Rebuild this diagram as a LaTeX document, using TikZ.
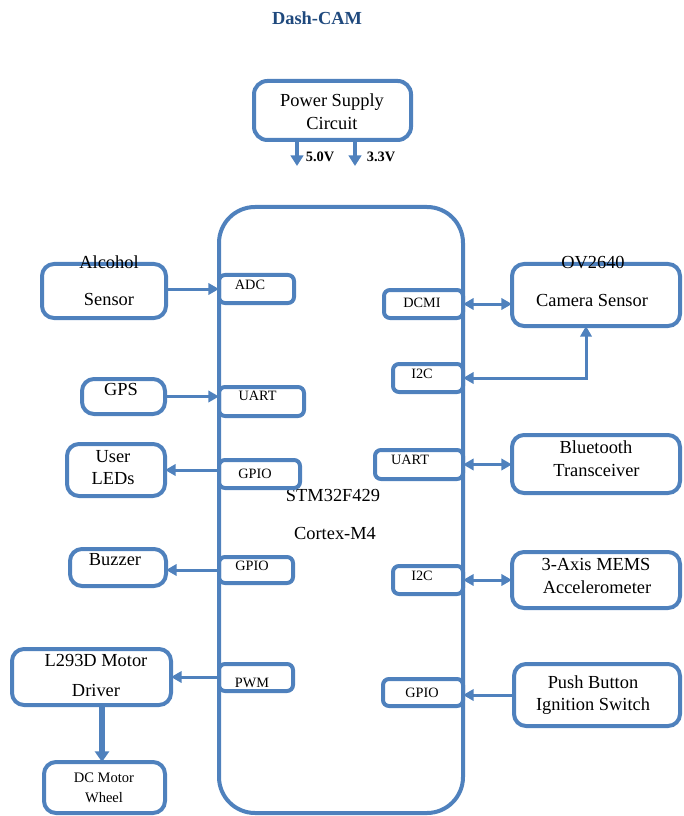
\documentclass[tikz,border=0pt]{standalone}
\usepackage{fontspec}
\setmainfont{Liberation Serif}
\usetikzlibrary{arrows.meta}
\definecolor{bl}{RGB}{79,129,189}
\definecolor{tb}{RGB}{31,73,125}
\tikzset{
  bx/.style n args={3}{draw=bl, line width=3pt, rounded corners=#3,
    minimum width=0.75*#1pt, minimum height=0.75*#2pt, inner sep=0pt, outer sep=0pt},
  big/.style={font=\fontsize{13.8}{16}\selectfont, anchor=base, inner sep=0pt},
  sm/.style={font=\fontsize{10.7}{12}\selectfont, anchor=base, inner sep=0pt},
  smb/.style={font=\fontsize{10.8}{12}\selectfont\bfseries, anchor=base, inner sep=0pt},
  conn/.style={draw=bl, line width=2.25pt, -{Triangle[length=8pt,width=8.5pt]}},
  dconn/.style={draw=bl, line width=2.25pt, {Triangle[length=8pt,width=8.5pt]}-{Triangle[length=8pt,width=8.5pt]}},
  parr/.style={draw=bl, line width=3.6pt, -{Triangle[length=8pt,width=9.5pt]}},
  marr/.style={draw=bl, line width=4.5pt, -{Triangle[length=8pt,width=10.5pt]}},
}
\begin{document}
\begin{tikzpicture}[x=0.75pt,y=-0.75pt]
\useasboundingbox (0,0) rectangle (683,816);

% title
\node[font=\fontsize{13.8}{16}\selectfont\bfseries, text=tb, anchor=base, inner sep=0pt] (title) at (317,24.5) {Dash-CAM};

% power supply
\node[bx={157}{59}{10pt}] (psu) at (332.5,110.5) {};
\node[big] (tpsu1) at (332,106.5) {Power Supply};
\node[big] (tpsu2) at (332,129.5) {Circuit};
\coordinate (p5) at (297,166);
\coordinate (p3) at (355,166);
\draw[parr] (psu.south -| p5) -- (p5);
\draw[parr] (psu.south -| p3) -- (p3);
\node[smb] (t5v) at (320,162) {5.0V};
\node[smb] (t3v) at (381,162) {3.3V};

% MCU
\node[bx={244}{606}{27pt}] (mcu) at (341,510) {};
\node[big] (tmcu1) at (333,501.5) {STM32F429};
\node[big] (tmcu2) at (335,539.5) {Cortex-M4};

% MCU left peripherals
\node[bx={75}{28}{4.5pt}] (adc) at (256.5,289) {};
\node[sm] (tadc) at (250,289) {ADC};
\node[bx={85}{29}{4.5pt}] (uartL) at (261.5,401.5) {};
\node[sm] (tuartL) at (257.5,400) {UART};
\node[bx={81}{28}{4.5pt}] (gpioL1) at (259.5,474) {};
\node[sm] (tgpioL1) at (255,478) {GPIO};
\node[bx={74}{26}{4.5pt}] (gpioL2) at (256,570) {};
\node[sm] (tgpioL2) at (252,570) {GPIO};
\node[bx={74}{27}{4.5pt}] (pwm) at (256,677.5) {};
\node[sm] (tpwm) at (252,687) {PWM};

% MCU right peripherals
\node[bx={79}{28}{4.5pt}] (dcmi) at (423.5,304) {};
\node[sm] (tdcmi) at (422,307) {DCMI};
\node[bx={70}{28}{4.5pt}] (i2cR1) at (428,378) {};
\node[sm] (ti2cR1) at (422,378) {I2C};
\node[bx={88}{29}{4.5pt}] (uartR) at (419,464.5) {};
\node[sm] (tuartR) at (410,464) {UART};
\node[bx={70}{28}{4.5pt}] (i2cR2) at (428,580) {};
\node[sm] (ti2cR2) at (422,580) {I2C};
\node[bx={80}{27}{4.5pt}] (gpioR) at (423,692.5) {};
\node[sm] (tgpioR) at (422,697) {GPIO};

% left external blocks
\node[bx={124}{54}{9pt}] (alc) at (104,291) {};
\node[big] (talc1) at (109,268.5) {Alcohol};
\node[big] (talc2) at (109,305.5) {Sensor};
\node[bx={83}{35}{9pt}] (gps) at (123.5,396.5) {};
\node[big] (tgps) at (121,395.5) {GPS};
\node[bx={98}{52}{9pt}] (leds) at (116,470) {};
\node[big] (tleds1) at (113,462.5) {User};
\node[big] (tleds2) at (113,484.5) {LEDs};
\node[bx={96}{37}{9pt}] (buzz) at (118,567.5) {};
\node[big] (tbuzz) at (115,565.5) {Buzzer};
\node[bx={159}{56}{9pt}] (l293) at (91.5,677) {};
\node[big] (tl2931) at (96,666.5) {L293D Motor};
\node[big] (tl2932) at (96,696.5) {Driver};
\node[bx={121}{51}{9pt}] (dcm) at (104.5,787.5) {};
\node[font=\fontsize{10.9}{12}\selectfont, anchor=base, inner sep=0pt] (tdcm1) at (104,782) {DC Motor};
\node[font=\fontsize{10.9}{12}\selectfont, anchor=base, inner sep=0pt] (tdcm2) at (104,802) {Wheel};

% right external blocks
\node[bx={168}{62}{9pt}] (cam) at (596,295) {};
\node[big] (tcam1) at (593,268.5) {OV2640};
\node[big] (tcam2) at (592,306.5) {Camera Sensor};
\node[bx={168}{58}{9pt}] (bt) at (596,464) {};
\node[big] (tbt1) at (596,453.5) {Bluetooth};
\node[big] (tbt2) at (596.5,476.5) {Transceiver};
\node[bx={168}{56}{9pt}] (mems) at (596,580) {};
\node[big] (tmems1) at (596,570.5) {3-Axis MEMS};
\node[big] (tmems2) at (597,593.5) {Accelerometer};
\node[bx={166}{62}{9pt}] (pb) at (597,695) {};
\node[big] (tpb1) at (593,688) {Push Button};
\node[big] (tpb2) at (593,710.5) {Ignition Switch};

% connectors left
\draw[conn] (alc.east |- adc.center) -- (adc.west);
\draw[conn] (gps.east) -- (gps.east -| mcu.west);
\draw[conn] (leds.east -| mcu.west) -- (leds.east);
\draw[conn] (gpioL2.west) -- (gpioL2.west -| buzz.east);
\draw[conn] (l293.east -| mcu.west) -- (l293.east);
\coordinate (dcin) at (102,762);
\draw[marr] (l293.south -| dcin) -- (dcin);

% connectors right
\draw[dconn] (dcmi.east) -- (dcmi.east -| cam.west);
\coordinate (camin) at (586,326);
\draw[dconn] (i2cR1.east) -| (camin);
\draw[dconn] (uartR.east) -- (uartR.east -| bt.west);
\draw[dconn] (i2cR2.east) -- (i2cR2.east -| mems.west);
\draw[conn] (pb.west) -- (pb.west -| mcu.east);
\end{tikzpicture}
\end{document}
